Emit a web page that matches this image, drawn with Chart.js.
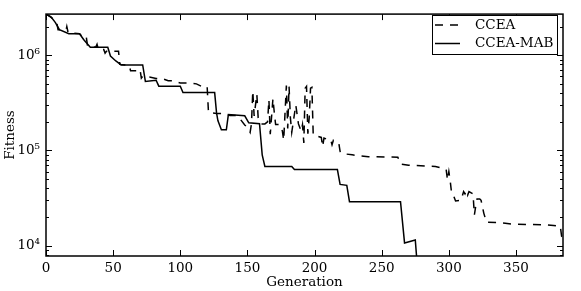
<!DOCTYPE html>
<html>
<head>
<meta charset="utf-8">
<script src="https://cdn.jsdelivr.net/npm/chart.js@4.4.1/dist/chart.umd.min.js"></script>
<style>
  html, body { margin: 0; padding: 0; background: #fff; }
  canvas { display: block; }
</style>
</head>
<body>
<canvas id="fitChart" width="581" height="291"></canvas>
<script>
// series names and axis ticks
const seriesNames = ["CCEA", "CCEA-MAB"];
const xTicks = [0, 50, 100, 150, 200, 250, 300, 350];
const yTicks = [1e4, 1e5, 1e6];
const yTickLabels = ["10⁴", "10⁵", "10⁶"];

// CCEA (dashed)
const cceaGen = [0, 3, 6, 8, 9, 15, 15.5, 16.5, 25, 28, 30, 31, 37, 38, 39, 43, 44, 45, 54, 55, 62, 63, 68, 70, 71, 72,
  75, 77, 82, 86, 91, 94, 100, 106, 112, 116, 120, 121, 127, 132, 137, 142, 145, 148, 150, 152, 153, 154, 155, 157, 158,
  160, 163, 165, 166, 167, 169, 170, 171, 174, 176, 177, 179, 180, 181, 182, 183, 186, 188, 190, 191, 192, 193, 194,
  195, 196, 197, 198, 199, 205, 206, 207, 210, 212, 213, 214, 218, 219, 220, 228, 233, 240, 262, 264, 270, 290, 297,
  298, 299, 300, 301, 302, 303, 305, 309, 311, 312, 313, 314, 315, 318, 319, 320, 321, 323, 324, 326, 328, 335, 342,
  348, 372, 378, 383, 384, 385];
const cceaFit = [2.7e6, 2.55e6, 2.35e6, 2.2e6, 1.85e6, 1.85e6, 2.0e6, 1.72e6, 1.68e6, 1.5e6, 1.55e6, 1.24e6, 1.21e6, 1.3e6, 1.15e6, 1.15e6, 1.05e6, 1.1e6, 1.1e6, 8.0e5, 7.8e5, 6.85e5, 6.85e5, 7.1e5, 5.75e5, 6.0e5,
  5.9e5, 5.9e5, 5.7e5, 5.7e5, 5.4e5, 5.4e5, 5.1e5, 5.1e5, 5.0e5, 4.7e5, 4.7e5, 2.5e5, 2.45e5, 2.45e5, 2.33e5, 2.33e5, 2.1e5, 1.85e5, 1.75e5, 1.55e5, 1.9e5, 4.2e5, 2.3e5, 3.9e5, 2.2e5,
  1.9e5, 1.9e5, 2.0e5, 3.4e5, 1.48e5, 3.5e5, 2.5e5, 1.87e5, 1.87e5, 1.6e5, 1.28e5, 4.8e5, 1.7e5, 4.7e5, 2.2e5, 1.55e5, 3.0e5, 1.9e5, 1.6e5, 1.87e5, 1.2e5, 4.5e5, 4.7e5,
  1.5e5, 2.2e5, 4.5e5, 4.6e5, 1.45e5, 1.37e5, 1.1e5, 1.35e5, 1.3e5, 1.3e5, 1.15e5, 1.28e5, 1.2e5, 9.8e4, 9.3e4, 9.0e4, 8.8e4, 8.6e4, 8.5e4, 7.2e4, 7.0e4, 6.8e4, 6.4e4,
  6.3e4, 4.9e4, 6.0e4, 4.8e4, 3.6e4, 3.5e4, 2.95e4, 3.0e4, 3.7e4, 3.5e4, 3.8e4, 3.4e4, 3.7e4, 3.5e4, 2.1e4, 2.6e4, 3.1e4, 3.1e4, 3.0e4, 2.2e4, 1.76e4, 1.75e4, 1.72e4,
  1.68e4, 1.66e4, 1.63e4, 1.6e4, 1.25e4, 1.2e4];

// CCEA-MAB (solid)
const mabGen = [0, 4, 7, 10, 17, 25, 28, 33, 46, 48, 52, 56, 72, 74, 82, 84, 100, 102, 125.6, 127, 128, 130.6, 134.3, 135.8, 148, 151, 159, 161, 163, 183, 185, 217, 219, 224, 226, 264, 267, 275, 277];
const mabFit = [2.7e6, 2.5e6, 2.2e6, 1.85e6, 1.68e6, 1.68e6, 1.46e6, 1.21e6, 1.21e6, 9.8e5, 8.7e5, 7.9e5, 7.9e5, 5.3e5, 5.45e5, 4.73e5, 4.73e5, 4.05e5, 4.05e5, 2.48e5, 2.06e5, 1.65e5, 1.65e5, 2.38e5, 2.31e5, 1.95e5, 1.91e5, 9.0e4, 6.8e4, 6.8e4, 6.3e4, 6.3e4, 4.4e4, 4.3e4, 2.9e4, 2.9e4, 1.07e4, 1.15e4, 5e3];

const FONT = "'DejaVu Serif', serif";

function toPoints(gen, fit) {
  return gen.map((g, i) => ({ x: g, y: fit[i] }));
}

// frame + inward ticks, like the original axes
const frameTicks = {
  id: "frameTicks",
  afterDatasetsDraw(chart) {
    const ctx = chart.ctx;
    const a = chart.chartArea;
    const xs = chart.scales.x;
    const ys = chart.scales.y;
    ctx.save();
    ctx.strokeStyle = "#000";
    ctx.lineWidth = 1;
    ctx.beginPath();
    xTicks.forEach((v) => {
      const px = Math.round(xs.getPixelForValue(v)) + 0.5;
      ctx.moveTo(px, a.bottom); ctx.lineTo(px, a.bottom - 6);
      ctx.moveTo(px, a.top); ctx.lineTo(px, a.top + 6);
    });
    yTicks.forEach((v) => {
      const py = Math.round(ys.getPixelForValue(v)) + 0.5;
      ctx.moveTo(a.left, py); ctx.lineTo(a.left + 6, py);
      ctx.moveTo(a.right, py); ctx.lineTo(a.right - 6, py);
    });
    for (let n = 3; n <= 6; n++) {
      for (let k = 2; k <= 9; k++) {
        const v = k * Math.pow(10, n);
        if (v < ys.min || v > ys.max) continue;
        const py = Math.round(ys.getPixelForValue(v)) + 0.5;
        ctx.moveTo(a.left, py); ctx.lineTo(a.left + 3, py);
        ctx.moveTo(a.right, py); ctx.lineTo(a.right - 3, py);
      }
    }
    ctx.stroke();
    ctx.lineWidth = 1.5;
    ctx.strokeRect(a.left, a.top, a.right - a.left, a.bottom - a.top);
    ctx.restore();
  }
};

// legend box in the upper right
const boxLegend = {
  id: "boxLegend",
  afterDraw(chart) {
    const ctx = chart.ctx;
    const bx = 432, by = 15, bw = 125, bh = 39;
    ctx.save();
    ctx.fillStyle = "#fff";
    ctx.fillRect(bx, by, bw, bh);
    ctx.strokeStyle = "#000";
    ctx.lineWidth = 1;
    ctx.strokeRect(bx + 0.5, by + 0.5, bw, bh);
    chart.data.datasets.forEach((ds, i) => {
      const y = 25 + i * 18.5;
      ctx.beginPath();
      ctx.lineWidth = ds.borderWidth;
      ctx.setLineDash(ds.borderDash || []);
      ctx.moveTo(435, y);
      ctx.lineTo(460, y);
      ctx.stroke();
      ctx.setLineDash([]);
      ctx.fillStyle = "#000";
      ctx.font = "13.5px " + FONT;
      ctx.textBaseline = "middle";
      ctx.fillText(ds.label, 475, y);
    });
    ctx.restore();
  }
};

new Chart(document.getElementById("fitChart"), {
  type: "line",
  data: {
    datasets: [
      {
        label: seriesNames[0],
        data: toPoints(cceaGen, cceaFit),
        borderColor: "#000",
        borderWidth: 1.5,
        borderDash: [8, 7],
        pointRadius: 0,
        fill: false,
        tension: 0
      },
      {
        label: seriesNames[1],
        data: toPoints(mabGen, mabFit),
        borderColor: "#000",
        borderWidth: 1.5,
        pointRadius: 0,
        fill: false,
        tension: 0
      }
    ]
  },
  options: {
    responsive: false,
    animation: false,
    devicePixelRatio: 1,
    layout: { padding: { top: 8, right: 18, left: 0, bottom: 0 }, autoPadding: false },
    plugins: { legend: { display: false }, tooltip: { enabled: false } },
    scales: {
      x: {
        type: "linear",
        min: 0,
        max: 385,
        afterBuildTicks: (s) => { s.ticks = xTicks.map((v) => ({ value: v })); },
        afterFit: (s) => { s.height = 35; },
        grid: { display: false, drawTicks: false },
        border: { display: false },
        ticks: { color: "#000", padding: 4, maxRotation: 0, font: { family: FONT, size: 13.5 } },
        title: { display: true, text: "Generation", color: "#000", padding: 0, font: { family: FONT, size: 13.5 } }
      },
      y: {
        type: "logarithmic",
        min: 7800,
        max: 2.7e6,
        afterBuildTicks: (s) => { s.ticks = yTicks.map((v) => ({ value: v })); },
        afterFit: (s) => { s.width = 46; },
        grid: { display: false, drawTicks: false },
        border: { display: false },
        ticks: {
          color: "#000",
          padding: 6,
          font: { family: FONT, size: 13.5 },
          callback: (v) => yTickLabels[yTicks.indexOf(v)] || ""
        },
        title: { display: true, text: "Fitness", color: "#000", padding: { top: 2, bottom: 0 }, font: { family: FONT, size: 13.5 } }
      }
    }
  },
  plugins: [frameTicks, boxLegend]
});
</script>
</body>
</html>
